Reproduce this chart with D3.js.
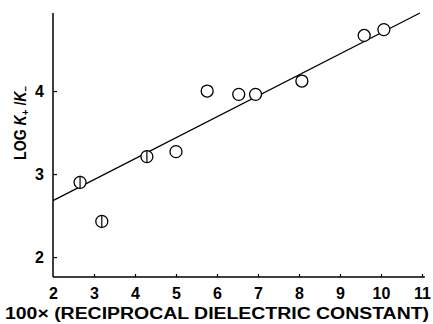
<!DOCTYPE html>
<html><head><meta charset="utf-8">
<script src="https://cdn.jsdelivr.net/npm/d3@7"></script>
<style>body{margin:0;background:#fff}svg{display:block}</style>
</head><body>
<svg id="c" width="433" height="324"></svg>
<script>
// data
const xValues = [2.66, 3.19, 4.29, 5.0, 5.76, 6.53, 6.94, 8.07, 9.59, 10.07];
const yValues = [2.90, 2.43, 3.21, 3.27, 4.00, 3.96, 3.96, 4.12, 4.67, 4.74];
const barred = [true, true, true, false, false, false, false, false, false, false];
const fitLine = [[2, 2.68], [10.95, 4.94]];
const xTicks = [2, 3, 4, 5, 6, 7, 8, 9, 10, 11];
const yTicks = [2, 3, 4];

const svg = d3.select("#c");
const x = d3.scaleLinear().domain([2, 11]).range([53, 422]);
const y = d3.scaleLinear().domain([1.76, 4.94]).range([277, 13]);
const font = "'Liberation Sans', Arial, sans-serif";

// axes lines
svg.append("line").attr("x1", x(2)).attr("x2", x(11.07)).attr("y1", y(1.76)).attr("y2", y(1.76))
  .attr("stroke", "#000").attr("stroke-width", 1.3);
svg.append("line").attr("x1", x(2)).attr("x2", x(2)).attr("y1", y(1.76)).attr("y2", y(4.94))
  .attr("stroke", "#000").attr("stroke-width", 1.5);

const gx = svg.append("g").attr("transform", `translate(0,${y(1.76)})`)
  .call(d3.axisBottom(x).tickValues(xTicks).tickFormat(d3.format("d")).tickSize(-3).tickPadding(11));
const gy = svg.append("g").attr("transform", `translate(${x(2)},0)`)
  .call(d3.axisLeft(y).tickValues(yTicks).tickFormat(d3.format("d")).tickSize(-4).tickPadding(9));
[gx, gy].forEach(g => {
  g.select(".domain").remove();
  g.selectAll("line").attr("stroke", "#000").attr("stroke-width", 1.2);
  g.selectAll("text").attr("font-family", font).attr("font-weight", "bold")
    .attr("font-size", 16).attr("fill", "#000");
});
gx.selectAll(".tick").filter(d => d === 2).select("line").remove();

// fit line
svg.append("line")
  .attr("x1", x(fitLine[0][0])).attr("y1", y(fitLine[0][1]))
  .attr("x2", x(fitLine[1][0])).attr("y2", y(fitLine[1][1]))
  .attr("stroke", "#000").attr("stroke-width", 1.3);

// points
const pts = svg.append("g");
xValues.forEach((xv, i) => {
  const cx = x(xv), cy = y(yValues[i]);
  pts.append("circle").attr("cx", cx).attr("cy", cy).attr("r", 6)
    .attr("fill", "#fff").attr("stroke", "#000").attr("stroke-width", 1.3);
  if (barred[i]) {
    pts.append("line").attr("x1", cx).attr("x2", cx).attr("y1", cy - 6.5).attr("y2", cy + 6.5)
      .attr("stroke", "#000").attr("stroke-width", 1.2);
  }
});

// x title
svg.append("text").attr("x", 217).attr("y", 319).attr("text-anchor", "middle")
  .attr("font-family", font).attr("font-weight", "bold").attr("font-size", 16)
  .attr("textLength", 424).attr("lengthAdjust", "spacingAndGlyphs")
  .text("100× (RECIPROCAL DIELECTRIC CONSTANT)");

// y title
const yt = svg.append("text").attr("transform", "translate(26,160) rotate(-90)")
  .attr("text-anchor", "start").attr("font-family", font).attr("font-weight", "bold")
  .attr("font-size", 16).attr("textLength", 74).attr("lengthAdjust", "spacingAndGlyphs");
yt.append("tspan").text("LOG ");
yt.append("tspan").attr("font-style", "italic").text("K");
yt.append("tspan").attr("font-size", 11).attr("dy", 3).text("+");
yt.append("tspan").attr("dy", -3).text("\u00a0/");
yt.append("tspan").attr("font-style", "italic").text("K");
yt.append("tspan").attr("font-size", 11).attr("dy", 3).text("\u2013");
</script>
</body></html>
